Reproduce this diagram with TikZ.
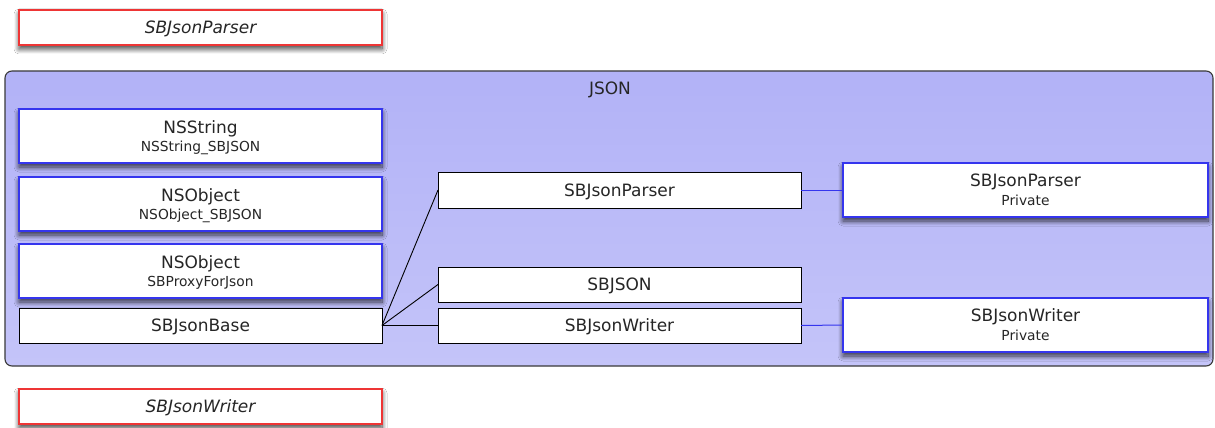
\documentclass[tikz,border=0pt]{standalone}
\usepackage{fontspec}
\setmainfont{DejaVu Sans}
\usetikzlibrary{shadows.blur}
\definecolor{txt}{HTML}{262626}
\definecolor{bluebd}{HTML}{3535EE}
\definecolor{redbd}{HTML}{EE3535}
\definecolor{jsontop}{HTML}{B2B2F7}
\definecolor{jsonbot}{HTML}{C4C4F9}
\definecolor{jsonbd}{HTML}{3A3A3A}
\begin{document}
\begin{tikzpicture}[x=1pt,y=-1pt,
  boxbase/.style={rectangle, inner sep=0pt, outer sep=0pt, fill=white},
  blackbox/.style={boxbase, draw=black, line width=1pt},
  shad/.style={blur shadow={shadow xshift=0pt, shadow yshift=-4pt, shadow blur radius=5pt, shadow blur steps=10, shadow opacity=75}},
  bluebox/.style={boxbase, draw=bluebd, line width=1.3pt, shad},
  redbox/.style={boxbase, draw=redbd, line width=1.3pt, shad},
  maintext/.style={inner sep=0pt, anchor=base, text=txt, font=\fontsize{17}{20}\selectfont},
  italtext/.style={maintext, font=\fontsize{17}{20}\selectfont\itshape},
  subtext/.style={inner sep=0pt, anchor=base, text=txt, font=\fontsize{13.8}{16}\selectfont},
  conn/.style={draw=black, line width=0.9pt},
  bconn/.style={draw=bluebd, line width=1pt}
]
\useasboundingbox (0,0) rectangle (1215,428);
\fill[white] (0,0) rectangle (1215,428);

% container
\path[draw=jsonbd, line width=1.1pt, rounded corners=7pt, top color=jsontop, bottom color=jsonbot]
  (5,71) rectangle (1213,366);
\node[maintext] (jsonlbl) at (610,95) {JSON};

% left column
\node[redbox, minimum width=363pt, minimum height=35pt] (topred) at (200.5,27.5) {};
\node[italtext] (topredt) at (200.5,33.5) {SBJsonParser};

\node[bluebox, minimum width=363pt, minimum height=54pt] (nsstr) at (200.5,136) {};
\node[maintext] (nsstrt) at (200.5,133) {NSString};
\node[subtext] (nsstrs) at (200.5,151) {NSString\_SBJSON};

\node[bluebox, minimum width=363pt, minimum height=54pt] (nsobja) at (200.5,204) {};
\node[maintext] (nsobjat) at (200.5,201) {NSObject};
\node[subtext] (nsobjas) at (200.5,219) {NSObject\_SBJSON};

\node[bluebox, minimum width=363pt, minimum height=54pt] (nsobjb) at (200.5,271) {};
\node[maintext] (nsobjbt) at (200.5,268) {NSObject};
\node[subtext] (nsobjbs) at (200.5,286) {SBProxyForJson};

\node[blackbox, minimum width=363pt, minimum height=35pt] (base) at (200.5,325.5) {};
\node[maintext] (baset) at (200.5,331.5) {SBJsonBase};

\node[redbox, minimum width=363pt, minimum height=35pt] (botred) at (200.5,406.5) {};
\node[italtext] (botredt) at (200.5,412.5) {SBJsonWriter};

% middle column
\node[blackbox, minimum width=363pt, minimum height=36pt] (parser) at (619.5,190) {};
\node[maintext] (parsert) at (619.5,196) {SBJsonParser};

\node[blackbox, minimum width=363pt, minimum height=35pt] (sbjson) at (619.5,284.5) {};
\node[maintext] (sbjsont) at (619.5,290.5) {SBJSON};

\node[blackbox, minimum width=363pt, minimum height=35pt] (writer) at (619.5,325.5) {};
\node[maintext] (writert) at (619.5,331.5) {SBJsonWriter};

% right column
\node[bluebox, minimum width=365pt, minimum height=54pt] (pparser) at (1025.5,190) {};
\node[maintext] (pparsert) at (1025.5,186) {SBJsonParser};
\node[subtext] (pparsers) at (1025.5,205) {Private};

\node[bluebox, minimum width=365pt, minimum height=54pt] (pwriter) at (1025.5,325) {};
\node[maintext] (pwritert) at (1025.5,321) {SBJsonWriter};
\node[subtext] (pwriters) at (1025.5,340) {Private};

% connectors
\draw[conn] (base.east) -- (parser.west);
\draw[conn] (base.east) -- (sbjson.west);
\draw[conn] (base.east) -- (writer.west);
\draw[bconn] (parser.east) -- (pparser.west);
\draw[bconn] (writer.east) -- (pwriter.west);
\end{tikzpicture}
\end{document}
